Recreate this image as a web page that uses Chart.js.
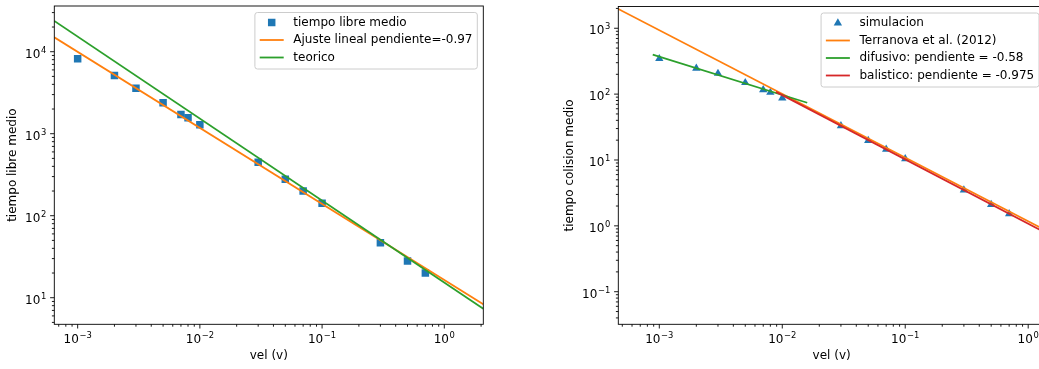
<!DOCTYPE html>
<html>
<head>
<meta charset="utf-8">
<script src="https://cdn.jsdelivr.net/npm/chart.js@4.4.1/dist/chart.umd.min.js"></script>
<style>
    html, body { margin: 0; padding: 0; background: #fff; overflow: hidden; }
    #wrap { position: relative; width: 1039px; height: 369px; overflow: hidden; }
    .panel { position: absolute; top: 0; height: 369px; }
    #left { left: 0; width: 520px; }
    #right { left: 520px; width: 540px; }
</style>
</head>
<body>
<div id="wrap">
    <div class="panel" id="left"><canvas id="libreChart" width="520" height="369"></canvas></div>
    <div class="panel" id="right"><canvas id="colisionChart" width="540" height="369"></canvas></div>
</div>
<script>
// Velocities used in both simulations
const velocidades = [0.001, 0.002, 0.003, 0.005, 0.007, 0.008, 0.01, 0.03, 0.05, 0.07, 0.1, 0.3, 0.5, 0.7];
const tiempoLibre = [8200, 5130, 3590, 2380, 1710, 1570, 1290, 450, 279, 200, 142, 46.7, 28.1, 20.0];
const tiempoColision = [345, 246, 206, 149, 116, 106, 87, 33, 19.7, 14.5, 10.4, 3.5, 2.11, 1.52];

// Straight lines (end points in log-log space)
const ajusteX = [6.44e-4, 2.085];
const ajusteY = [15000, 8.3];
const teoricoX = [6.44e-4, 2.085];
const teoricoY = [23700, 7.35];
const terranovaX = [4.64e-4, 1.37];
const terranovaY = [1963, 0.865];
const difusivoX = [8.84e-4, 0.01596];
const difusivoY = [397, 74];
const balisticoX = [8.9e-3, 1.37];
const balisticoY = [108, 0.794];

// Axis limits
const libreXRange = [6.44e-4, 2.085];
const libreYRange = [4.74, 36100];
const colisionXRange = [4.64e-4, 1.37];
const colisionYRange = [0.032, 2140];

const BLUE = '#1f77b4';
const ORANGE = '#ff7f0e';
const GREEN = '#2ca02c';
const RED = '#d62728';
const FONT = '"DejaVu Sans", sans-serif';
const FONT_SIZE = 12;
const SUP_SIZE = 8.4;

function toPoints(xs, ys) {
    return xs.map((x, i) => ({ x: x, y: ys[i] }));
}

function lineDataset(label, xs, ys, color, order) {
    return {
        label: label,
        data: toPoints(xs, ys),
        showLine: true,
        borderColor: color,
        backgroundColor: color,
        borderWidth: 1.8,
        pointRadius: 0,
        order: order
    };
}

// "10^n" with a small raised exponent
function drawPow(ctx, exp, x, y, align) {
    const sup = exp < 0 ? '\u2212' + (-exp) : String(exp);
    ctx.font = FONT_SIZE + 'px ' + FONT;
    const wb = ctx.measureText('10').width;
    ctx.font = SUP_SIZE + 'px ' + FONT;
    const ws = ctx.measureText(sup).width;
    const total = wb + 0.6 + ws;
    const x0 = align === 'center' ? x - total / 2 : x - total;
    ctx.textAlign = 'left';
    ctx.textBaseline = 'alphabetic';
    ctx.font = FONT_SIZE + 'px ' + FONT;
    ctx.fillText('10', x0, y);
    ctx.font = SUP_SIZE + 'px ' + FONT;
    ctx.fillText(sup, x0 + wb + 0.6, y - 5);
}

function drawLogTicks(ctx, scale, area, horizontal) {
    const lo = Math.floor(Math.log10(scale.min));
    const hi = Math.ceil(Math.log10(scale.max));
    ctx.strokeStyle = '#000';
    ctx.fillStyle = '#000';
    ctx.lineWidth = 0.9;
    for (let e = lo; e <= hi; e++) {
        for (let m = 1; m <= 9; m++) {
            const v = m * Math.pow(10, e);
            if (v < scale.min * 0.9999 || v > scale.max * 1.0001) continue;
            const p = scale.getPixelForValue(v);
            const len = m === 1 ? 4.2 : 2.4;
            ctx.beginPath();
            if (horizontal) {
                ctx.moveTo(p, area.bottom);
                ctx.lineTo(p, area.bottom + len);
            } else {
                ctx.moveTo(area.left, p);
                ctx.lineTo(area.left - len, p);
            }
            ctx.stroke();
            if (m === 1) {
                if (horizontal) drawPow(ctx, e, p, area.bottom + 18.5, 'center');
                else drawPow(ctx, e, area.left - 8, p + 6.2, 'right');
            }
        }
    }
}

function drawLegend(ctx, area, items) {
    ctx.font = FONT_SIZE + 'px ' + FONT;
    const textW = Math.max(...items.map(it => ctx.measureText(it.label).width));
    const w = 4.8 + 24 + 9.6 + textW + 4.8;
    const h = 10 + (items.length - 1) * 17.5 + 11.5;
    const x = area.right - 6 - w;
    const y = area.top + 6.5;

    ctx.save();
    ctx.beginPath();
    ctx.roundRect(x, y, w, h, 2.5);
    ctx.fillStyle = 'rgba(255,255,255,0.8)';
    ctx.fill();
    ctx.strokeStyle = '#cccccc';
    ctx.lineWidth = 1;
    ctx.stroke();

    items.forEach((it, i) => {
        const ry = y + 10 + i * 17.5;
        const hx = x + 4.8;
        if (it.kind === 'line') {
            ctx.beginPath();
            ctx.moveTo(hx, ry);
            ctx.lineTo(hx + 24, ry);
            ctx.strokeStyle = it.color;
            ctx.lineWidth = 1.8;
            ctx.stroke();
        } else {
            Chart.helpers.drawPoint(ctx, {
                pointStyle: it.kind, radius: it.radius, rotation: 0, borderWidth: 0
            }, hx + 12, ry);
            ctx.fillStyle = it.color;
            ctx.fill();
        }
        ctx.fillStyle = '#000';
        ctx.font = FONT_SIZE + 'px ' + FONT;
        ctx.textAlign = 'left';
        ctx.textBaseline = 'middle';
        ctx.fillText(it.label, hx + 24 + 9.6, ry);
    });
    ctx.restore();
}

// Spines, log ticks, axis titles and legend in the usual pyplot look
function axesPlugin(cfg) {
    return {
        id: 'mplAxes',
        afterDraw(chart) {
            const ctx = chart.ctx;
            const area = chart.chartArea;
            ctx.save();
            ctx.strokeStyle = '#000';
            ctx.lineWidth = 0.9;
            ctx.strokeRect(area.left, area.top, area.right - area.left, area.bottom - area.top);

            drawLogTicks(ctx, chart.scales.x, area, true);
            drawLogTicks(ctx, chart.scales.y, area, false);

            ctx.fillStyle = '#000';
            ctx.font = FONT_SIZE + 'px ' + FONT;
            ctx.textAlign = 'center';
            ctx.textBaseline = 'middle';
            ctx.fillText(cfg.xTitle, (area.left + area.right) / 2, 356);

            ctx.translate(cfg.yTitleX, (area.top + area.bottom) / 2);
            ctx.rotate(-Math.PI / 2);
            ctx.fillText(cfg.yTitle, 0, 0);
            ctx.restore();

            drawLegend(ctx, area, cfg.legend);
        }
    };
}

function logScales(xRange, yRange) {
    return {
        x: { type: 'logarithmic', min: xRange[0], max: xRange[1], bounds: 'data', display: false },
        y: { type: 'logarithmic', min: yRange[0], max: yRange[1], bounds: 'data', display: false }
    };
}

function baseOptions(padding, xRange, yRange) {
    return {
        responsive: false,
        animation: false,
        layout: { padding: padding },
        scales: logScales(xRange, yRange),
        plugins: { legend: { display: false }, tooltip: { enabled: false } }
    };
}

const libreChart = new Chart(document.getElementById('libreChart'), {
    type: 'scatter',
    data: {
        datasets: [
            {
                label: 'tiempo libre medio',
                data: toPoints(velocidades, tiempoLibre),
                pointStyle: 'rect',
                pointRadius: 5.3,
                pointBackgroundColor: BLUE,
                pointBorderWidth: 0,
                order: 2
            },
            lineDataset('Ajuste lineal pendiente=-0.97', ajusteX, ajusteY, ORANGE, 1),
            lineDataset('teorico', teoricoX, teoricoY, GREEN, 0)
        ]
    },
    options: baseOptions({ left: 54.3, right: 36.7, top: 6, bottom: 44.7 }, libreXRange, libreYRange),
    plugins: [axesPlugin({
        xTitle: 'vel (v)',
        yTitle: 'tiempo libre medio',
        yTitleX: 13.3,
        legend: [
            { kind: 'rect', radius: 5.3, color: BLUE, label: 'tiempo libre medio' },
            { kind: 'line', color: ORANGE, label: 'Ajuste lineal pendiente=-0.97' },
            { kind: 'line', color: GREEN, label: 'teorico' }
        ]
    })]
});

const colisionChart = new Chart(document.getElementById('colisionChart'), {
    type: 'scatter',
    data: {
        datasets: [
            {
                label: 'simulacion',
                data: toPoints(velocidades, tiempoColision),
                pointStyle: 'triangle',
                pointRadius: 4.8,
                pointBackgroundColor: BLUE,
                pointBorderWidth: 0,
                order: 3
            },
            lineDataset('Terranova et al. (2012)', terranovaX, terranovaY, ORANGE, 2),
            lineDataset('difusivo: pendiente = -0.58', difusivoX, difusivoY, GREEN, 1),
            lineDataset('balistico: pendiente = -0.975', balisticoX, balisticoY, RED, 0)
        ]
    },
    options: baseOptions({ left: 98.3, right: 15, top: 6.5, bottom: 44.7 }, colisionXRange, colisionYRange),
    plugins: [axesPlugin({
        xTitle: 'vel (v)',
        yTitle: 'tiempo colision medio',
        yTitleX: 50,
        legend: [
            { kind: 'triangle', radius: 4.8, color: BLUE, label: 'simulacion' },
            { kind: 'line', color: ORANGE, label: 'Terranova et al. (2012)' },
            { kind: 'line', color: GREEN, label: 'difusivo: pendiente = -0.58' },
            { kind: 'line', color: RED, label: 'balistico: pendiente = -0.975' }
        ]
    })]
});
</script>
</body>
</html>
